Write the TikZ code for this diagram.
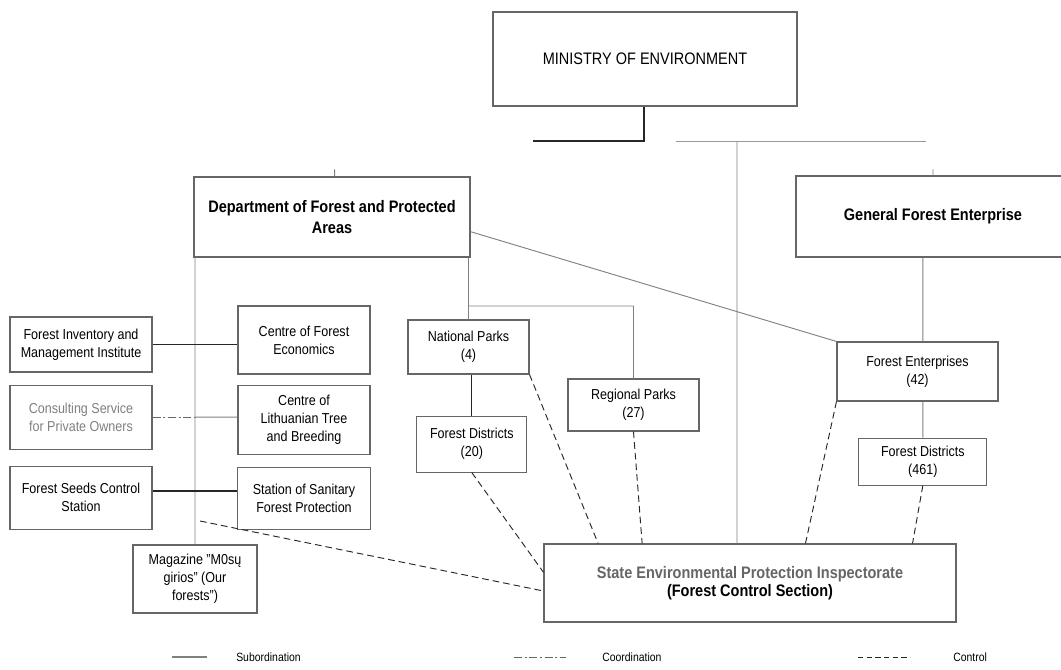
\documentclass[tikz,border=0pt]{standalone}
\usepackage{fontspec}
\setmainfont{Liberation Sans}[FakeStretch=0.87]
\usetikzlibrary{positioning}

\begin{document}
\begin{tikzpicture}[x=0.75pt,y=-0.75pt,
                    every node/.style={inner sep=0pt,align=center},
                    unit/.style={draw=black!60,line width=0.8pt,fill=white,font=\fontsize{10.8}{13.5}\selectfont},
                    head/.style={unit,font=\fontsize{12.5}{16}\selectfont\bfseries},
                    subord/.style={draw=black!50,line width=0.7pt},
                    coord/.style={draw=black!60,line width=0.7pt,dash pattern=on 6pt off 2pt on 1.5pt off 2pt},
                    control/.style={draw=black!85,line width=0.7pt,dash pattern=on 5pt off 3pt}]
  \useasboundingbox (0,0) rectangle (1061,670);

    \node[unit, minimum width=228pt, minimum height=70.5pt, font=\fontsize{12.5}{15}\selectfont]
                                    (min) at (645,59) {MINISTRY OF ENVIRONMENT};
    \node[head, minimum width=207pt, minimum height=60pt] (dept) at (332,217) {Department of Forest and Protected\\ Areas};
    \node[head, minimum width=205.5pt, minimum height=60.75pt] (gfe) at (933,216.5) {General Forest Enterprise};

    \node[unit, minimum width=106.5pt, minimum height=41.25pt] (fimi) at (81,344.5) {Forest Inventory and\\ Management Institute};
    \node[unit, minimum width=106.5pt, minimum height=48pt, text=black!50] (csp) [below=9pt of fimi] {Consulting Service\\ for Private Owners};
    \node[unit, minimum width=106.5pt, minimum height=47.25pt] (fscs) [below=12pt of csp] {Forest Seeds Control\\ Station};

    \node[unit, minimum width=99pt, minimum height=51pt] (cfe) at (304,340) {Centre of Forest\\ Economics};
    \node[unit, minimum width=99pt, minimum height=51.75pt] (cltb) [below=7.5pt of cfe] {Centre of\\ Lithuanian Tree\\ and Breeding};
    \node[unit, minimum width=99.75pt, minimum height=46.5pt] (ssfp) [below=9pt of cltb] {Station of Sanitary\\ Forest Protection};
    \node[unit, minimum width=93pt, minimum height=51pt] (mag) at (195,579) {Magazine "M0sų\\ girios" (Our\\ forests")};

    \node[unit, minimum width=90.75pt, minimum height=40.5pt] (np) at (468.5,347) {National Parks\\ (4)};
    \node[unit, minimum width=82.5pt, minimum height=42pt] (fd20) [below=30.75pt of np, xshift=2.5pt] {Forest Districts\\ (20)};
    \node[unit, minimum width=98.25pt, minimum height=39pt] (rp) at (633.5,405) {Regional Parks\\ (27)};

    \node[unit, minimum width=120.75pt, minimum height=44.25pt] (fe) at (917.5,371.5) {Forest Enterprises\\ (42)};
    \node[unit, minimum width=96pt, minimum height=35.25pt] (fd461) [below=27pt of fe, xshift=4pt] {Forest Districts\\ (461)};

    \node[unit, minimum width=309pt, minimum height=58.5pt, font=\fontsize{12.5}{13.5}\selectfont\bfseries]
                                    (state) at (750,583) {\textcolor{black!60}{State Environmental Protection Inspectorate}\\ (Forest Control Section)};

    \coordinate (minfoot) at (644,141);
    \coordinate (minleft) at (533,141);
    \coordinate (busl) at (676,141);
    \coordinate (busr) at (926,141);
    \coordinate (busdrop) at (737,141);
    \coordinate (parkbus) at (470,306);
    \coordinate (magctl) at (200,521);

  % subordination
  \path[subord] ([xshift=2pt]dept.north) -- ++(0,-7)
        (gfe.north) -- ++(0,-6)
        (mag.north) -- (mag.north |- dept.south)
        (np.north) -- (np.north |- dept.south)
        (np.north |- parkbus) -- (parkbus -| rp.north) -- (rp.north)
        ([yshift=-11pt]dept.east) -- (fe.north west)
        (fd461.north |- gfe.south) -- (fd461.north |- fe.north)
        (fd461.north |- fe.south) -- (fd461.north)
        (busdrop) -- (busdrop |- state.north)
        (mag.north |- csp.east) -- (csp.east -| cltb.west);
  \path[subord, draw=black!40] (busl) -- (busr);
  \path[subord, draw=black!85, line width=0.9pt]
        (minfoot |- min.south) -- (minfoot) -- (minleft)
        (fimi.east) -- (fimi.east -| cfe.west)
        ([yshift=5pt]fscs.east) -- ([yshift=5pt]fscs.east -| ssfp.west)
        (np.south -| fd20.north) -- (fd20.north);

  % coordination
  \path[coord] (csp.east) -- (mag.north |- csp.east);

  % control
  \path[control] (fd20.south) -- ([yshift=8pt]state.west)
        (np.south east) -- ([xshift=41pt]state.north west)
        (rp.south) -- ([xshift=74pt]state.north west)
        (fe.south west) -- ([xshift=196.5pt]state.north west)
        (fd461.south) -- ([xshift=-33pt]state.north east)
        (magctl) -- ([yshift=-6pt]state.west);

  % legend
    \coordinate (sub1) at (172,657);
    \coordinate (sub2) at (207,657);
    \coordinate (crd1) at (514,657);
    \coordinate (crd2) at (566,657);
    \coordinate (ctl1) at (858,657);
    \coordinate (ctl2) at (910,657);
  \path[subord, line width=1pt] (sub1) -- (sub2);
  \path[coord] (crd1) -- (crd2);
  \path[control, dash pattern=on 4pt off 2.5pt] (ctl1) -- (ctl2);
    \node[font=\fontsize{9}{11}\selectfont, anchor=west] (subtext) at (236,657) {Subordination};
    \node[font=\fontsize{9}{11}\selectfont, anchor=west] (crdtext) at (602,657) {Coordination};
    \node[font=\fontsize{9}{11}\selectfont, anchor=west] (ctltext) at (953,657) {Control};

\end{tikzpicture}
\end{document}
